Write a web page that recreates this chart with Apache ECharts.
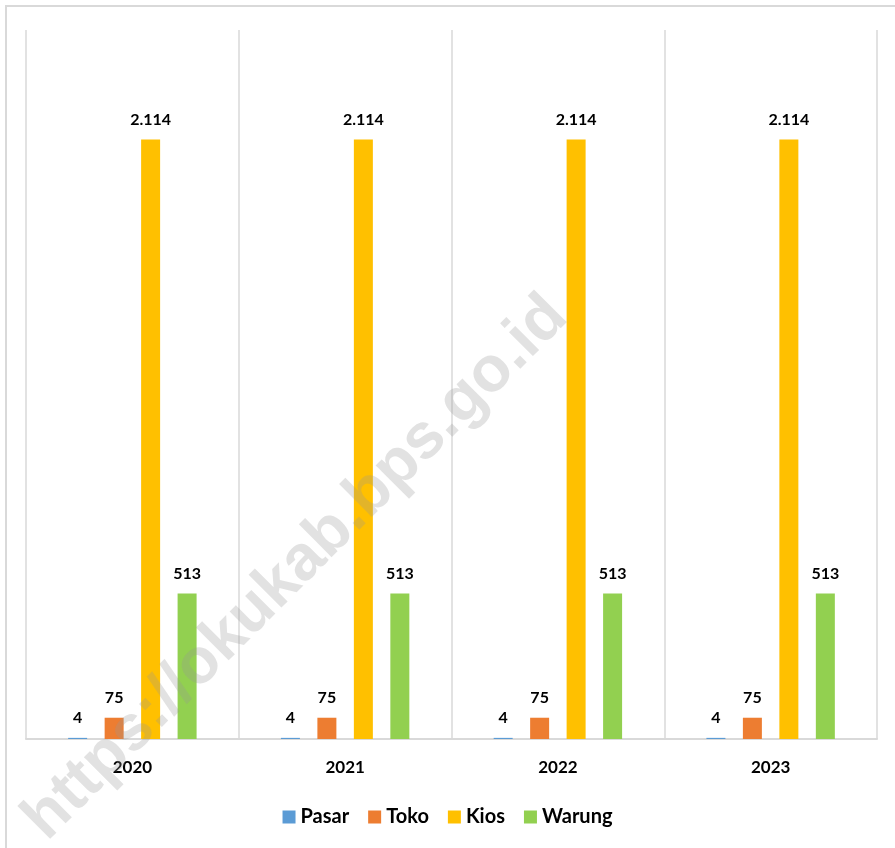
<!DOCTYPE html>
<html>
<head>
<meta charset="utf-8">
<script src="https://cdn.jsdelivr.net/npm/echarts@6/dist/echarts.min.js"></script>
<style>
html, body { margin: 0; padding: 0; background: #fff; }
#chart { width: 895px; height: 848px; }
</style>
</head>
<body>
<div id="chart"></div>
<script>
var years = ['2020', '2021', '2022', '2023'];
var pasar = [4, 4, 4, 4];
var toko = [75, 75, 75, 75];
var kios = [2114, 2114, 2114, 2114];
var warung = [513, 513, 513, 513];

var font = 'Lato';

function fmt(p) {
    return String(p.value).replace(/\B(?=(\d{3})+(?!\d))/g, '.');
}

function bar(name, data, color) {
    return {
        name: name,
        type: 'bar',
        data: data,
        barWidth: 19,
        barGap: '92%',
        itemStyle: { color: color },
        label: {
            show: true,
            position: 'top',
            distance: 12,
            formatter: fmt,
            color: '#000',
            fontFamily: font,
            fontWeight: 'bold',
            fontSize: 16
        }
    };
}

var myChart = echarts.init(document.getElementById('chart'));
var option = {
    animation: false,
    grid: { left: 26, right: 18, top: 30, bottom: 109 },
    legend: {
        bottom: 16,
        left: 'center',
        icon: 'rect',
        itemWidth: 13,
        itemHeight: 13,
        itemGap: 19,
        textStyle: { fontFamily: font, fontWeight: 'bold', fontSize: 20, color: '#000' },
        data: ['Pasar', 'Toko', 'Kios', 'Warung']
    },
    xAxis: {
        type: 'category',
        data: years,
        axisTick: { show: false },
        axisLine: { lineStyle: { color: '#d9d9d9', width: 2 } },
        axisLabel: { margin: 20, color: '#000', fontFamily: font, fontWeight: 'bold', fontSize: 17 },
        splitLine: { show: true, lineStyle: { color: '#d9d9d9', width: 1.5 } }
    },
    yAxis: {
        type: 'value',
        min: 0,
        max: 2500,
        show: false
    },
    graphic: [{
        type: 'rect',
        shape: { x: 6, y: 6, width: 1000, height: 1000 },
        style: { fill: 'none', stroke: '#d9d9d9', lineWidth: 2 },
        silent: true,
        z: -1
    }, {
        type: 'text',
        x: 296,
        y: 568,
        rotation: Math.PI / 4,
        z: 100,
        silent: true,
        style: {
            text: 'https://okukab.bps.go.id',
            x: 0,
            y: 0,
            align: 'center',
            verticalAlign: 'middle',
            font: 'bold 64px "Liberation Sans", Arial, sans-serif',
            fill: 'rgba(150,150,150,0.28)'
        }
    }],
    series: [
        bar('Pasar', pasar, '#5B9BD5'),
        bar('Toko', toko, '#ED7D31'),
        bar('Kios', kios, '#FFC000'),
        bar('Warung', warung, '#92D050')
    ]
};
myChart.setOption(option);
</script>
</body>
</html>
